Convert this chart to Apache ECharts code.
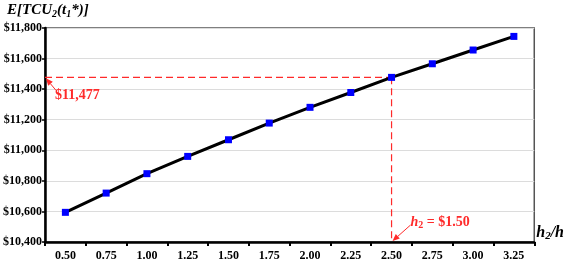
<!DOCTYPE html>
<html><head><meta charset="utf-8">
<script src="https://cdn.jsdelivr.net/npm/echarts@6/dist/echarts.min.js"></script>
<style>html,body{margin:0;padding:0;background:#fff}#c{width:567px;height:262px}</style>
</head><body><div id="c"></div>
<script>
const categories = ['0.50','0.75','1.00','1.25','1.50','1.75','2.00','2.25','2.50','2.75','3.00','3.25'];
const values = [10594, 10720, 10847, 10960, 11069, 11178, 11281, 11378, 11477, 11566, 11656, 11745];
const yTicks = {min: 10400, max: 11800, interval: 200};
const highlightX = '2.50';
const highlightY = 11477;
const highlightLabel = '$11,477';
const h2Label = '$1.50';

const F = 'Liberation Serif';
const chart = echarts.init(document.getElementById('c'));
chart.setOption({
  animation: false,
  title: {
    text: '{a|E[TCU}{s|2}{a|(t}{s|1}{a|*)]}',
    left: 7, top: 2, padding: 0,
    textStyle: {
      rich: {
        a: {fontFamily: F, fontStyle: 'italic', fontWeight: 'bold', fontSize: 15, color: '#000'},
        s: {fontFamily: F, fontStyle: 'italic', fontWeight: 'bold', fontSize: 10, color: '#000', verticalAlign: 'bottom', padding: [7,0,0,0]}
      }
    }
  },
  grid: {left: 42, right: 29, top: 28, bottom: 20, show: true, borderColor: '#555', borderWidth: 1.5},
  xAxis: {
    type: 'category', data: categories, boundaryGap: true,
    axisLine: {lineStyle: {color: '#000', width: 2.5}},
    axisTick: {show: true, inside: false, length: 4, lineStyle: {color: '#000', width: 2}, alignWithLabel: false},
    axisLabel: {fontFamily: F, fontWeight: 'bold', fontSize: 12, color: '#000', margin: 8},
    name: '{a|h}{s|2}{a|/h}', nameLocation: 'end', nameGap: 2,
    nameTextStyle: {
      verticalAlign: 'bottom', padding: [0,0,0,0],
      rich: {
        a: {fontFamily: F, fontStyle: 'italic', fontWeight: 'bold', fontSize: 16, color: '#000'},
        s: {fontFamily: F, fontStyle: 'italic', fontWeight: 'bold', fontSize: 11, color: '#000', verticalAlign: 'bottom', padding: [8,0,0,0]}
      }
    }
  },
  yAxis: {
    type: 'value', min: yTicks.min, max: yTicks.max, interval: yTicks.interval,
    axisLine: {show: true, lineStyle: {color: '#000', width: 2.5}},
    axisTick: {show: true, length: 3, lineStyle: {color: '#000', width: 1.5}},
    axisLabel: {fontFamily: F, fontWeight: 'bold', fontSize: 12, color: '#000', margin: 3,
      formatter: v => '$' + v.toLocaleString('en-US')},
    splitLine: {show: true, lineStyle: {color: '#dcdcdc', width: 1}}
  },
  series: [{
    type: 'line', data: values,
    lineStyle: {color: '#000', width: 3},
    symbol: 'rect', symbolSize: 7,
    itemStyle: {color: '#0000ff'},
    z: 5
  }]
});

const p = chart.convertToPixel({seriesIndex: 0}, [highlightX, highlightY]);
const gridRect = chart.getModel().getComponent('grid', 0).coordinateSystem.getRect();
const left = gridRect.x, bottom = gridRect.y + gridRect.height;
const red = '#ff2a2a';
function arrow(x1, y1, x2, y2) {
  const ang = Math.atan2(y2 - y1, x2 - x1), L = 7, W = 3;
  const bx = x2 - L * Math.cos(ang), by = y2 - L * Math.sin(ang);
  const nx = -Math.sin(ang) * W, ny = Math.cos(ang) * W;
  return [
    {type: 'line', shape: {x1, y1, x2: bx, y2: by}, style: {stroke: red, lineWidth: 1}, z: 20},
    {type: 'polygon', shape: {points: [[x2, y2], [bx + nx, by + ny], [bx - nx, by - ny]]}, style: {fill: red}, z: 20}
  ];
}
chart.setOption({
  graphic: [
    {type: 'line', shape: {x1: left, y1: p[1], x2: p[0], y2: p[1]}, style: {stroke: red, lineWidth: 1.2, lineDash: [7, 4]}, z: 3},
    {type: 'line', shape: {x1: p[0], y1: p[1], x2: p[0], y2: bottom}, style: {stroke: red, lineWidth: 1.2, lineDash: [7, 4]}, z: 3},
    ...arrow(left + 11, p[1] + 13, left + 1, p[1] + 1),
    ...arrow(p[0] + 19, bottom - 17, p[0] + 1, bottom - 1),
    {type: 'text', left: left + 10, top: p[1] + 11, style: {text: highlightLabel, fill: red, font: 'bold 14px "Liberation Serif"'}, z: 20},
    {type: 'text', left: p[0] + 19, top: bottom - 27, style: {
      text: '{i|h}{s|2}{n| = ' + h2Label + '}',
      rich: {
        i: {fill: red, fontFamily: F, fontStyle: 'italic', fontWeight: 'bold', fontSize: 14},
        s: {fill: red, fontFamily: F, fontWeight: 'bold', fontSize: 10, verticalAlign: 'bottom', padding: [6,0,0,0]},
        n: {fill: red, fontFamily: F, fontWeight: 'bold', fontSize: 14}
      }
    }, z: 20}
  ]
});
</script></body></html>
